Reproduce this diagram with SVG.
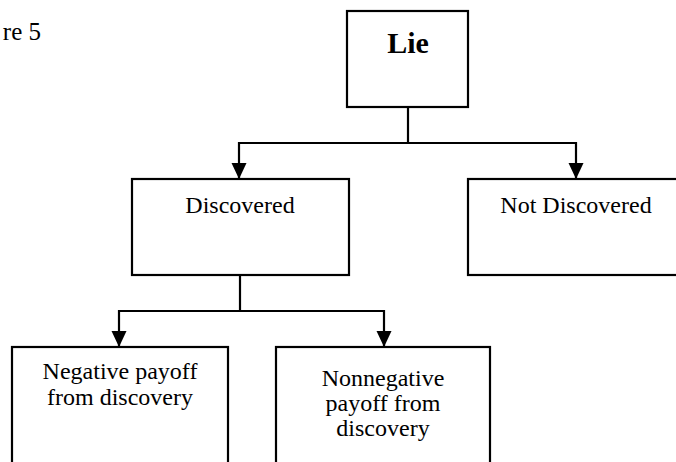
<svg xmlns="http://www.w3.org/2000/svg" width="676" height="462" viewBox="0 0 676 462">
<style>
.box{fill:#fff;stroke:#000;stroke-width:2.2}
.t{font-family:"Liberation Serif","Times New Roman",serif;font-size:24px;fill:#000;text-anchor:middle}
.b{font-weight:bold;font-size:30px}
.c{fill:none;stroke:#000;stroke-width:2.2}
</style>
<defs>
<marker id="ah" markerUnits="userSpaceOnUse" markerWidth="16" markerHeight="16" viewBox="0 0 16 16" refX="16" refY="8" orient="auto">
<path d="M0,0.5 L16,8 L0,15.5 Z" fill="#000"/>
</marker>
</defs>
<rect width="676" height="462" fill="#fff"/>
<text class="t" x="41" y="40" style="text-anchor:end;font-size:25px">re 5</text>
<g id="connectors">
<path class="c" d="M408,107 V143"/>
<path class="c" d="M239,143 H576"/>
<path class="c" d="M239,142 V179" marker-end="url(#ah)"/>
<path class="c" d="M576,142 V179" marker-end="url(#ah)"/>
<path class="c" d="M240,275 V311"/>
<path class="c" d="M119,311 H384"/>
<path class="c" d="M119,310 V347" marker-end="url(#ah)"/>
<path class="c" d="M384,310 V347" marker-end="url(#ah)"/>
</g>
<g id="lie">
<rect class="box" x="347" y="11" width="121" height="96"/>
<text class="t b" x="408" y="53">Lie</text>
</g>
<g id="discovered">
<rect class="box" x="132" y="179" width="217" height="96"/>
<text class="t" x="240" y="213">Discovered</text>
</g>
<g id="not-discovered">
<rect class="box" x="468" y="179" width="230" height="96"/>
<text class="t" x="576" y="213">Not Discovered</text>
</g>
<g id="negative">
<rect class="box" x="12" y="347" width="216" height="130"/>
<text class="t" x="120" y="379">Negative payoff</text>
<text class="t" x="120" y="405">from discovery</text>
</g>
<g id="nonnegative">
<rect class="box" x="276" y="347" width="214" height="130"/>
<text class="t" x="383" y="386">Nonnegative</text>
<text class="t" x="383" y="411">payoff from</text>
<text class="t" x="383" y="436">discovery</text>
</g>
</svg>
